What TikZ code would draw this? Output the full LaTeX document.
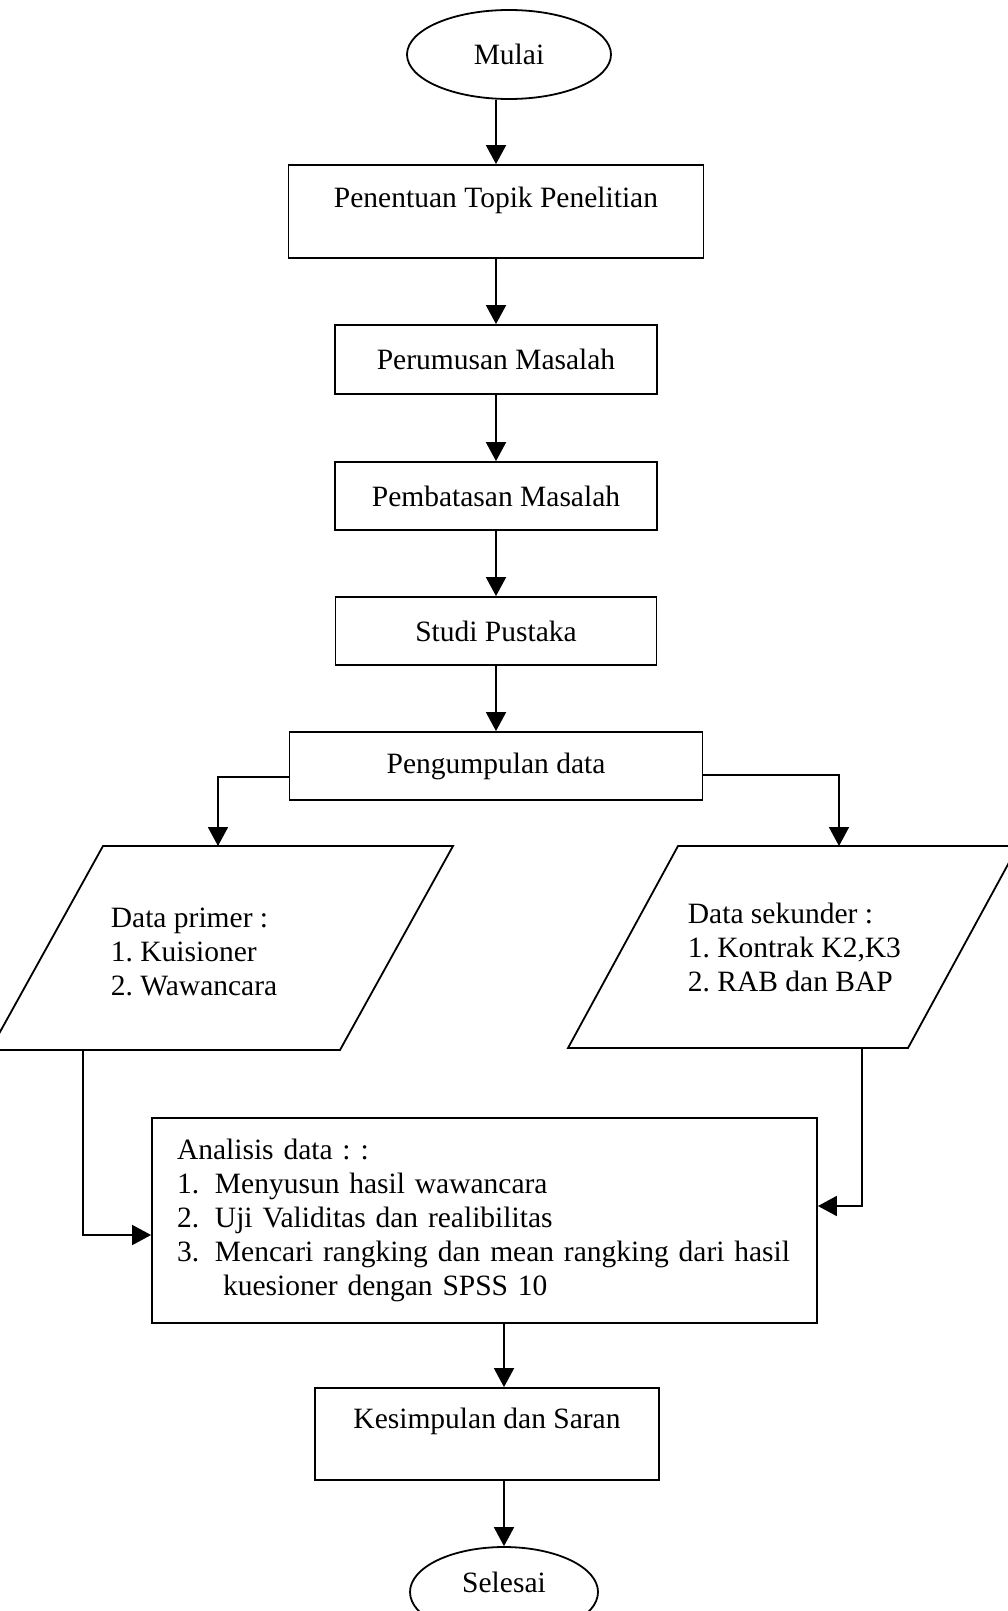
\documentclass[tikz,border=0pt]{standalone}
\usepackage{fontspec}
\setmainfont{Liberation Serif}
\usetikzlibrary{calc,
	positioning,
	shapes,
	arrows.meta}
\frenchspacing

\begin{document}
\begin{tikzpicture}[x=1pt, y=-1pt, line width=1.8pt,
        font=\fontsize{29.5}{34}\selectfont,
        box/.style={draw, rectangle, inner sep=0pt},
        terminal/.style={draw, ellipse, inner sep=0pt},
        txt/.style={inner sep=0pt, align=left},
        arr/.style={-{Triangle[width=20pt, length=19pt]}}]
            \clip (0, 0) rectangle (1008, 1611);
            \fill[white] (0, 0) rectangle (1008, 1611);

            \node[terminal, minimum width=204pt, minimum height=89pt] (mulai) at (509, 54.5) {Mulai};
            \node[box, minimum width=415pt, minimum height=93pt, text height=21pt, text depth=30pt] (topik) at (496, 211.5) {Penentuan Topik Penelitian};
            \node[box, minimum width=322pt, minimum height=69pt] (rumus) at (496, 359.5) {Perumusan Masalah};
            \node[box, minimum width=322pt, minimum height=68pt] (batas) at (496, 496) {Pembatasan Masalah};
            \node[box, minimum width=321pt, minimum height=68pt] (studi) at (496, 631) {Studi Pustaka};
            \node[box, minimum width=413pt, minimum height=68pt] (kumpul) at (496, 766) {Pengumpulan data};

            \draw (103, 846) -- (453, 846) -- (340, 1050) -- (-10, 1050) -- cycle;
            \coordinate (primer top) at (218, 846);
            \coordinate (primer bot) at (83, 1050);
            \node[txt, anchor=west] (primer) at (110, 952) {Data primer :\\1. Kuisioner\\2. Wawancara};

            \draw (678, 846) -- (1018, 846) -- (908, 1048) -- (568, 1048) -- cycle;
            \coordinate (sekunder top) at (839, 846);
            \coordinate (sekunder bot) at (862, 1048);
            \node[txt, anchor=west] (sekunder) at (687, 947) {Data sekunder :\\1. Kontrak K2,K3\\2. RAB dan BAP};

            \node[box, text width=615pt, align=left, inner xsep=25pt, minimum height=205pt] (analisis) at (484.5, 1220.5) {Analisis data : :\\
                \makebox[38pt][l]{1.}Menyusun hasil wawancara\\
                \makebox[38pt][l]{2.}Uji Validitas dan realibilitas\\
                \makebox[38pt][l]{3.}Mencari rangking dan mean rangking dari hasil\\
                \hspace*{46pt}kuesioner dengan SPSS 10};

            \node[box, minimum width=344pt, minimum height=92pt, text height=21pt, text depth=32pt] (simpul) at (487, 1434) {Kesimpulan dan Saran};
            \node[terminal, minimum width=188pt, minimum height=90pt, text height=21pt, text depth=21pt] (selesai) at (504, 1592) {Selesai};

            \draw[arr] (topik.north |- mulai.south) -- (topik.north);
            \draw[arr] (topik) -- (rumus);
            \draw[arr] (rumus) -- (batas);
            \draw[arr] (batas) -- (studi);
            \draw[arr] (studi) -- (kumpul);
            \draw[arr] ([yshift=-11pt]kumpul.west) -| (primer top);
            \draw[arr] ([yshift=-9pt]kumpul.east) -| (sekunder top);
            \draw[arr] (primer bot) |- ([yshift=-14.5pt]analisis.west);
            \draw[arr] (sekunder bot) |- ([yshift=14.5pt]analisis.east);
            \draw[arr] (analisis.south -| selesai.north) -- (simpul.north -| selesai.north);
            \draw[arr] (simpul.south -| selesai.north) -- (selesai.north);
        \end{tikzpicture}
\end{document}
